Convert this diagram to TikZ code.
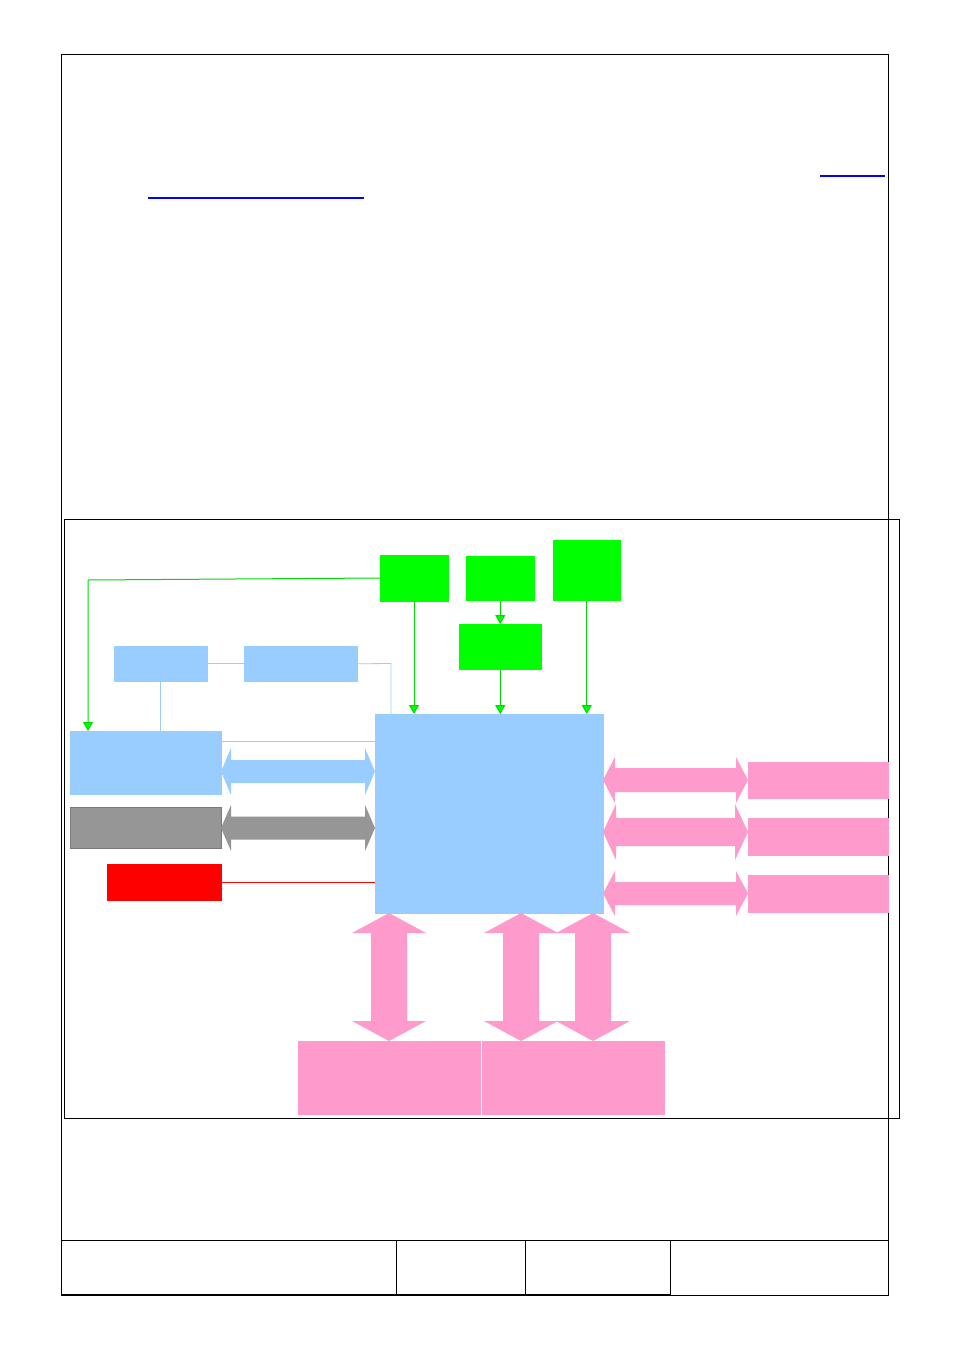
\documentclass[tikz,border=0pt]{standalone}
\usetikzlibrary{arrows.meta}
\definecolor{lblue}{HTML}{99CCFF}
\definecolor{lgreen}{HTML}{00FF00}
\definecolor{lpink}{HTML}{FF9ACC}
\definecolor{lgray}{HTML}{969696}
\definecolor{dgray}{HTML}{7A7A7A}
\definecolor{lred}{HTML}{FF0000}
\definecolor{hyperblue}{rgb}{0,0,1}
\tikzset{
  blk/.style={draw=none,inner sep=0pt,outer sep=0pt,anchor=north west},
  gbox/.style={blk,fill=lgreen},
  bbox/.style={blk,fill=lblue},
  pbox/.style={blk,fill=lpink},
  gline/.style={draw=lgreen!85!black,line width=1pt,-{Triangle[length=9pt,width=10pt,fill=lgreen]}},
  bline/.style={draw=lblue,line width=0.8pt},
  rline/.style={draw=lred,line width=0.8pt},
  frame/.style={draw=black,line width=1pt},
}
\newcommand\hdarr[7]{% color, x1, x2, yc, shaft half, head half, head len
  \fill[#1] (#2,#4) -- ({#2+#7},{#4-#6}) -- ({#2+#7},{#4-#5}) -- ({#3-#7},{#4-#5}) -- ({#3-#7},{#4-#6}) -- (#3,#4)
    -- ({#3-#7},{#4+#6}) -- ({#3-#7},{#4+#5}) -- ({#2+#7},{#4+#5}) -- ({#2+#7},{#4+#6}) -- cycle;}
\newcommand\vdarr[7]{% color, xc, y1, y2, shaft half, head half, head len
  \fill[#1] (#2,#3) -- ({#2+#6},{#3+#7}) -- ({#2+#5},{#3+#7}) -- ({#2+#5},{#4-#7}) -- ({#2+#6},{#4-#7}) -- (#2,#4)
    -- ({#2-#6},{#4-#7}) -- ({#2-#5},{#4-#7}) -- ({#2-#5},{#3+#7}) -- ({#2-#6},{#3+#7}) -- cycle;}
\begin{document}
\begin{tikzpicture}[x=1pt,y=-1pt]
\useasboundingbox[fill=white] (0,0) rectangle (954,1350);
% outer page frame
\draw[frame] (61,54) rectangle (888,1295);
\draw[frame] (61,1240) -- (888,1240);
\draw[frame] (396,1240) -- (396,1295);
\draw[frame] (525,1240) -- (525,1295);
\draw[frame] (670,1240) -- (670,1295);
\draw[line width=2pt] (61,1294.5) -- (670,1294.5);
% blue hyperlink underlines
\fill[hyperblue] (820,174.5) rectangle (885,176.5);
\fill[hyperblue] (148,196.5) rectangle (364,198.5);
% inner diagram frame
\draw[black,line width=0.8pt] (64,519) rectangle (899,1118);

% nodes
\node[gbox,minimum width=68.5pt,minimum height=46.5pt] (g1) at (380,555) {};
\node[gbox,minimum width=68.5pt,minimum height=44.5pt] (g2) at (466,556) {};
\node[gbox,minimum width=67.5pt,minimum height=60.5pt] (g3) at (553,540) {};
\node[gbox,minimum width=82.5pt,minimum height=45.5pt] (g4) at (459,624) {};
\node[bbox,minimum width=93.5pt,minimum height=35.5pt] (b1) at (114,646) {};
\node[bbox,minimum width=113.5pt,minimum height=35.5pt] (b2) at (244,646) {};
\node[bbox,minimum width=151.5pt,minimum height=63.5pt] (lb) at (70,731) {};
\node[blk,fill=lgray,draw=dgray,line width=0.6pt,minimum width=151.5pt,minimum height=41.5pt] (gy) at (70,807) {};
\node[blk,fill=lred,minimum width=114.5pt,minimum height=36.5pt] (rd) at (107,864) {};
\node[bbox,minimum width=228.5pt,minimum height=199.5pt] (m) at (375,714) {};
\node[pbox,minimum width=140.5pt,minimum height=36.5pt] (p1) at (748,762) {};
\node[pbox,minimum width=140.5pt,minimum height=37.5pt] (p2) at (748,818) {};
\node[pbox,minimum width=140.5pt,minimum height=37.5pt] (p3) at (748,875) {};
\node[pbox,minimum width=182.5pt,minimum height=73.5pt] (q1) at (298,1041) {};
\node[pbox,minimum width=182.5pt,minimum height=73.5pt] (q2) at (482,1041) {};

% green arrows
\coordinate (gl) at (88,580);
\draw[gline] (g1.west |- 0,578) -- (gl) -- (gl |- lb.north);
\draw[gline] (414,601) -- (414,714);
\draw[gline] (g2.south) -- (g4.north);
\draw[gline] (g4.south) -- (g4.south |- m.north);
\draw[gline] (g3.south) -- (g3.south |- m.north);

% thin blue lines
\draw[bline] (b1.east) -- (b2.west);
\draw[bline] (b2.east) -- (391,663.5) -- (391,714);
\draw[bline] (b1.south) -- (b1.south |- lb.north);
\draw[bline] (221,741) -- (375,741);
% red line
\draw[rline] (rd.east) -- (rd.east -| m.west);

% fat double arrows
\hdarr{lblue}{221}{375}{771.5}{11.5}{23.5}{10}
\hdarr{lgray}{221}{375}{828}{11.5}{23}{10}
\hdarr{lpink}{603}{748}{780}{12}{23}{12}
\hdarr{lpink}{603}{748}{832}{14}{28}{13}
\hdarr{lpink}{603}{748}{893.5}{11.5}{22.5}{12}
\vdarr{lpink}{389}{913}{1041}{18}{37}{20}
\vdarr{lpink}{521}{913}{1041}{18}{37}{20}
\vdarr{lpink}{593}{913}{1041}{18}{37}{20}
\end{tikzpicture}
\end{document}
